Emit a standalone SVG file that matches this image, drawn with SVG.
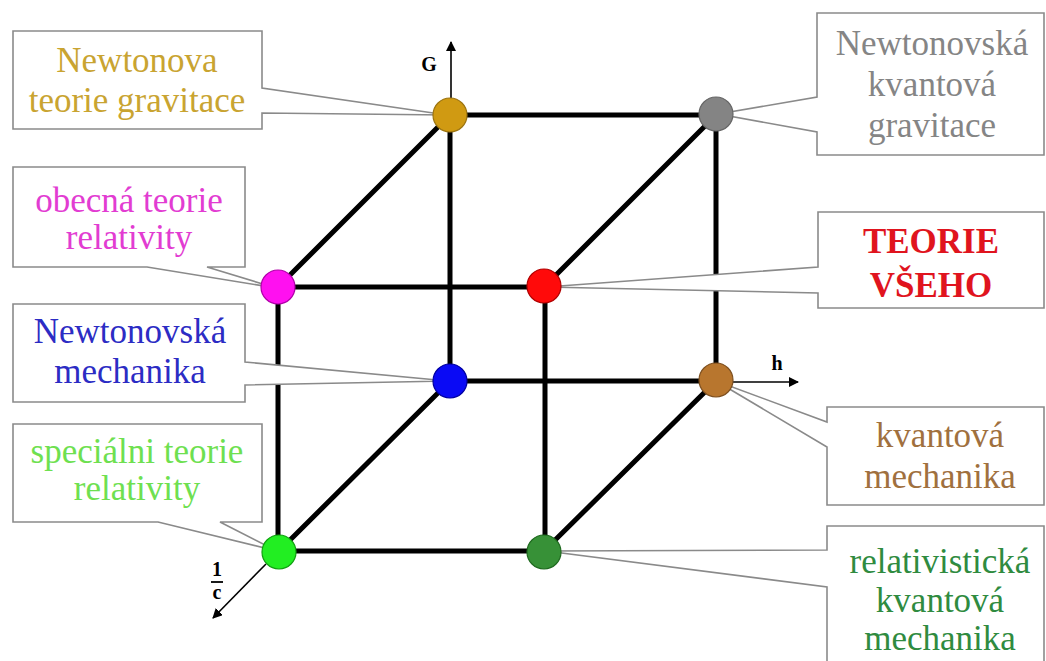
<svg xmlns="http://www.w3.org/2000/svg" width="1046" height="661" viewBox="0 0 1046 661">
<style>
.edge{stroke:#000;stroke-width:5;fill:none;stroke-linecap:round}
.axis{stroke:#000;stroke-width:1.6;fill:none}
.call{fill:#fff;stroke:#8a8a8a;stroke-width:1.6;stroke-linejoin:miter}
.lbl{font-family:'Liberation Serif',serif;font-size:35px;text-anchor:middle}
.bold{font-weight:bold}
.ax{font-family:'Liberation Serif',serif;font-size:20px;font-weight:bold;text-anchor:middle;fill:#000}
.n{stroke-width:1.2}
</style>
<defs>
<marker id="arr" viewBox="0 0 10 10" refX="9" refY="5" markerWidth="10" markerHeight="10" markerUnits="userSpaceOnUse" orient="auto">
<path d="M0,0 L10,5 L0,10 Z" fill="#000"/>
</marker>
</defs>
<rect width="1046" height="661" fill="#fff"/>
<g id="connectors">
<line class="edge" x1="450" y1="115" x2="716" y2="115"/>
<line class="edge" x1="278" y1="287" x2="544" y2="287"/>
<line class="edge" x1="450" y1="381" x2="716" y2="381"/>
<line class="edge" x1="279" y1="551" x2="544" y2="551"/>
<line class="edge" x1="450" y1="115" x2="450" y2="381"/>
<line class="edge" x1="716" y1="115" x2="716" y2="381"/>
<line class="edge" x1="278" y1="287" x2="278" y2="551"/>
<line class="edge" x1="545" y1="287" x2="545" y2="551"/>
<line class="edge" x1="278" y1="287" x2="450" y2="115"/>
<line class="edge" x1="544" y1="287" x2="716" y2="115"/>
<line class="edge" x1="279" y1="551" x2="450" y2="381"/>
<line class="edge" x1="544" y1="551" x2="716" y2="381"/>
<line class="axis" x1="451" y1="98" x2="451" y2="42" marker-end="url(#arr)"/>
<line class="axis" x1="733" y1="382" x2="798" y2="382" marker-end="url(#arr)"/>
<line class="axis" x1="266" y1="564" x2="213" y2="618" marker-end="url(#arr)"/>
<text class="ax" x="429" y="71">G</text>
<text class="ax" x="777" y="370">h</text>
<text class="ax" x="217" y="576">1</text>
<line x1="211" y1="582" x2="223" y2="582" stroke="#000" stroke-width="1.8"/>
<text class="ax" x="217" y="599">c</text>
</g>
<g id="newtonova-teorie-gravitace">
<path class="call" d="M13,31 H262 V88 L447,115 L262,113 V129 H13 Z"/>
<circle class="n" cx="450" cy="115" r="17" fill="#D09A12" stroke="#9c7410"/>
<text class="lbl" x="137" y="72" fill="#C9A431">Newtonova</text>
<text class="lbl" x="137" y="112" fill="#C9A431">teorie gravitace</text>
</g>
<g id="newtonovska-kvantova-gravitace">
<path class="call" d="M817,13 H1044 V155 H817 V132 L718,114 L817,97 Z"/>
<circle class="n" cx="716" cy="114" r="17" fill="#848484" stroke="#666"/>
<text class="lbl" x="932" y="55" fill="#858585">Newtonovská</text>
<text class="lbl" x="932" y="96" fill="#858585">kvantová</text>
<text class="lbl" x="932" y="137" fill="#858585">gravitace</text>
</g>
<g id="obecna-teorie-relativity">
<path class="call" d="M13,167 H245 V267 H207 L276,288 L147,267 H13 Z"/>
<circle class="n" cx="278" cy="287" r="17" fill="#FF10F0" stroke="#b000a8"/>
<text class="lbl" x="129" y="212" fill="#E23CD2">obecná teorie</text>
<text class="lbl" x="129" y="249" fill="#E23CD2">relativity</text>
</g>
<g id="teorie-vseho">
<path class="call" d="M818,212 H1044 V308 H818 V293 L546,287 L818,267 Z"/>
<circle class="n" cx="544" cy="286" r="17" fill="#FF0A0A" stroke="#b00000"/>
<text class="lbl bold" x="931" y="253" fill="#E0141E">TEORIE</text>
<text class="lbl bold" x="931" y="297" fill="#E0141E">VŠEHO</text>
</g>
<g id="newtonovska-mechanika">
<path class="call" d="M13,304 H245 V362 L448,381 L245,385 V402 H13 Z"/>
<circle class="n" cx="450" cy="381" r="17" fill="#0A0AF5" stroke="#0000a0"/>
<text class="lbl" x="130" y="343" fill="#2C2CC4">Newtonovská</text>
<text class="lbl" x="130" y="383" fill="#2C2CC4">mechanika</text>
</g>
<g id="kvantova-mechanika">
<path class="call" d="M827,407 H1044 V505 H827 V447 L716,381 L827,422 Z"/>
<circle class="n" cx="716" cy="380" r="17" fill="#B8762E" stroke="#7e5020"/>
<text class="lbl" x="940" y="447" fill="#A0703E">kvantová</text>
<text class="lbl" x="940" y="488" fill="#A0703E">mechanika</text>
</g>
<g id="specialni-teorie-relativity">
<path class="call" d="M13,424 H262 V522 H220 L277,551 L158,522 H13 Z"/>
<circle class="n" cx="279" cy="552" r="17" fill="#22EE22" stroke="#10a010"/>
<text class="lbl" x="137" y="463" fill="#6EE050">speciálni teorie</text>
<text class="lbl" x="137" y="500" fill="#6EE050">relativity</text>
</g>
<g id="relativisticka-kvantova-mechanika">
<path class="call" d="M827,526 H1044 V670 H827 V587 L546,551 L827,550 Z"/>
<circle class="n" cx="544" cy="552" r="17" fill="#379137" stroke="#1f6a1f"/>
<text class="lbl" x="940" y="573" fill="#2F8B40">relativistická</text>
<text class="lbl" x="940" y="612" fill="#2F8B40">kvantová</text>
<text class="lbl" x="940" y="650" fill="#2F8B40">mechanika</text>
</g>
</svg>
